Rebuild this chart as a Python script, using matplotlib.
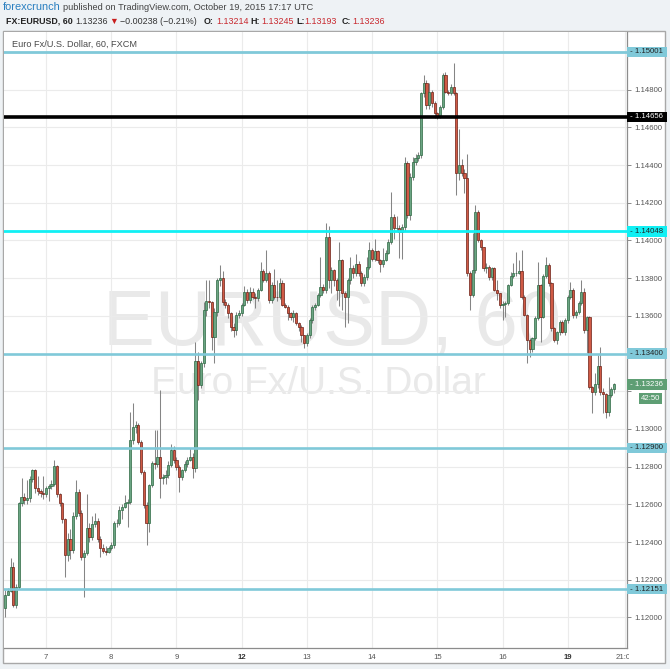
import matplotlib
matplotlib.use('Agg')
import matplotlib.pyplot as plt
from matplotlib.patches import Rectangle
from matplotlib.transforms import blended_transform_factory, Bbox, TransformedBbox
import numpy as np

# ---------------- data (EURUSD hourly, Oct 6 09:00 -> Oct 19 16:00 UTC) ----------------
first_open = 1.12050
closes = [
    1.12119, 1.12142, 1.12270, 1.12066, 1.12163, 1.12609, 1.12637, 1.12624, 1.12633, 1.12733,
    1.12782, 1.12685, 1.12672, 1.12662, 1.12655, 1.12685, 1.12697, 1.12710, 1.12804, 1.12655,
    1.12606, 1.12521, 1.12332, 1.12415, 1.12358, 1.12538, 1.12664, 1.12556, 1.12323, 1.12340,
    1.12473, 1.12429, 1.12496, 1.12513, 1.12415, 1.12367, 1.12354, 1.12349, 1.12367, 1.12384,
    1.12500, 1.12503, 1.12570, 1.12588, 1.12609, 1.12614, 1.12942, 1.13012, 1.13021, 1.12933,
    1.12773, 1.12597, 1.12500, 1.12703, 1.12818, 1.12815, 1.12850, 1.12738, 1.12743, 1.12756,
    1.12809, 1.12889, 1.12836, 1.12797, 1.12747, 1.12780, 1.12815, 1.12836, 1.12853, 1.12791,
    1.13362, 1.13233, 1.13348, 1.13631, 1.13681, 1.13675, 1.13490, 1.13622, 1.13790, 1.13799,
    1.13675, 1.13658, 1.13614, 1.13543, 1.13525, 1.13605, 1.13614, 1.13658, 1.13728, 1.13684,
    1.13728, 1.13702, 1.13693, 1.13737, 1.13840, 1.13790, 1.13826, 1.13684, 1.13764, 1.13702,
    1.13699, 1.13776, 1.13658, 1.13649, 1.13614, 1.13596, 1.13614, 1.13561, 1.13543, 1.13499,
    1.13455, 1.13499, 1.13578, 1.13649, 1.13658, 1.13711, 1.13755, 1.13737, 1.14020, 1.13790,
    1.13843, 1.13790, 1.13737, 1.13897, 1.13720, 1.13699, 1.13790, 1.13852, 1.13826, 1.13875,
    1.13826, 1.13773, 1.13808, 1.13858, 1.13950, 1.13902, 1.13943, 1.13897, 1.13875, 1.13897,
    1.13935, 1.13994, 1.14126, 1.14065, 1.14065, 1.14047, 1.14073, 1.14410, 1.14135, 1.14338,
    1.14418, 1.14436, 1.14454, 1.14781, 1.14837, 1.14719, 1.14790, 1.14728, 1.14675, 1.14661,
    1.14710, 1.14878, 1.14790, 1.14784, 1.14816, 1.14784, 1.14356, 1.14401, 1.14356, 1.14330,
    1.13830, 1.13710, 1.13843, 1.14153, 1.14003, 1.13967, 1.13852, 1.13861, 1.13808, 1.13852,
    1.13737, 1.13720, 1.13658, 1.13663, 1.13670, 1.13764, 1.13812, 1.13826, 1.13830, 1.13840,
    1.13702, 1.13605, 1.13473, 1.13423, 1.13481, 1.13587, 1.13764, 1.13596, 1.13809, 1.13870,
    1.13773, 1.13534, 1.13473, 1.13517, 1.13570, 1.13517, 1.13578, 1.13702, 1.13737, 1.13605,
    1.13623, 1.13667, 1.13728, 1.13525, 1.13592, 1.13225, 1.13198, 1.13238, 1.13334, 1.13198,
    1.13186, 1.13092, 1.13180, 1.13214, 1.13236,
]
highs = [
    1.12146, 1.12155, 1.12314, 1.12296, 1.12180, 1.12615, 1.12738, 1.12660, 1.12729, 1.12750,
    1.12790, 1.12790, 1.12750, 1.12680, 1.12750, 1.12700, 1.12710, 1.12730, 1.12836, 1.12810,
    1.12660, 1.12610, 1.12530, 1.12450, 1.12470, 1.12560, 1.12729, 1.12680, 1.12570, 1.12360,
    1.12655, 1.12500, 1.12540, 1.12553, 1.12530, 1.12430, 1.12390, 1.12380, 1.12380, 1.12400,
    1.12510, 1.12520, 1.12590, 1.12600, 1.12650, 1.12630, 1.13092, 1.13136, 1.13040, 1.13030,
    1.12940, 1.12780, 1.12610, 1.12710, 1.12830, 1.12995, 1.12995, 1.13207, 1.12760, 1.12780,
    1.12830, 1.12920, 1.12910, 1.12850, 1.12810, 1.12790, 1.12830, 1.12850, 1.12900, 1.12870,
    1.13463, 1.13410, 1.13360, 1.13675, 1.13790, 1.13790, 1.13680, 1.13640, 1.13800, 1.13870,
    1.13840, 1.13690, 1.13670, 1.13620, 1.13560, 1.13620, 1.13630, 1.13670, 1.13760, 1.13740,
    1.13755, 1.13750, 1.13720, 1.13750, 1.13888, 1.13850, 1.13950, 1.13840, 1.13780, 1.13850,
    1.13790, 1.13800, 1.13790, 1.13670, 1.13660, 1.13620, 1.13630, 1.13620, 1.13570, 1.13550,
    1.13500, 1.13510, 1.13590, 1.13660, 1.13670, 1.13720, 1.13914, 1.13770, 1.14094, 1.14077,
    1.13860, 1.13850, 1.13800, 1.13994, 1.13900, 1.13730, 1.13800, 1.13910, 1.13870, 1.13930,
    1.13890, 1.13840, 1.13820, 1.13910, 1.13994, 1.13960, 1.14010, 1.13950, 1.13900, 1.13959,
    1.13950, 1.14010, 1.14259, 1.14140, 1.14130, 1.14080, 1.14090, 1.14445, 1.14420, 1.14360,
    1.14445, 1.14460, 1.14470, 1.14790, 1.14878, 1.14850, 1.14834, 1.14800, 1.14740, 1.14680,
    1.14720, 1.14887, 1.14896, 1.14800, 1.14830, 1.14940, 1.14790, 1.14590, 1.14430, 1.14380,
    1.14460, 1.13840, 1.14040, 1.14188, 1.14160, 1.14010, 1.13940, 1.13880, 1.13870, 1.13860,
    1.13860, 1.13790, 1.13720, 1.13680, 1.13680, 1.13770, 1.13835, 1.13879, 1.13940, 1.13897,
    1.13949, 1.13710, 1.13610, 1.13480, 1.13490, 1.13600, 1.13888, 1.13770, 1.13820, 1.13914,
    1.13880, 1.13780, 1.13540, 1.13520, 1.13580, 1.13580, 1.13590, 1.13710, 1.13782, 1.13750,
    1.13630, 1.13680, 1.13791, 1.13750, 1.13600, 1.13600, 1.13230, 1.13295, 1.13390, 1.13437,
    1.13220, 1.13190, 1.13278, 1.13225, 1.13245,
]
lows = [
    1.12004, 1.12119, 1.12137, 1.12058, 1.12050, 1.12150, 1.12590, 1.12600, 1.12600, 1.12610,
    1.12720, 1.12660, 1.12650, 1.12640, 1.12630, 1.12640, 1.12620, 1.12680, 1.12700, 1.12640,
    1.12590, 1.12500, 1.12217, 1.12300, 1.12310, 1.12340, 1.12520, 1.12540, 1.12305, 1.12110,
    1.12330, 1.12400, 1.12410, 1.12480, 1.12400, 1.12320, 1.12340, 1.12330, 1.12340, 1.12360,
    1.12370, 1.12480, 1.12490, 1.12520, 1.12580, 1.12482, 1.12600, 1.12920, 1.12980, 1.12920,
    1.12760, 1.12580, 1.12385, 1.12456, 1.12690, 1.12790, 1.12800, 1.12632, 1.12710, 1.12710,
    1.12740, 1.12800, 1.12820, 1.12780, 1.12667, 1.12730, 1.12770, 1.12800, 1.12830, 1.12740,
    1.12770, 1.13154, 1.13220, 1.13330, 1.13600, 1.13640, 1.13419, 1.13348, 1.13600, 1.13760,
    1.13660, 1.13640, 1.13590, 1.13520, 1.13490, 1.13500, 1.13590, 1.13600, 1.13650, 1.13670,
    1.13670, 1.13690, 1.13640, 1.13680, 1.13730, 1.13780, 1.13780, 1.13670, 1.13670, 1.13690,
    1.13680, 1.13690, 1.13650, 1.13640, 1.13578, 1.13580, 1.13570, 1.13550, 1.13520, 1.13460,
    1.13428, 1.13440, 1.13480, 1.13560, 1.13630, 1.13650, 1.13700, 1.13720, 1.13720, 1.13750,
    1.13720, 1.13760, 1.13684, 1.13650, 1.13630, 1.13543, 1.13560, 1.13770, 1.13800, 1.13810,
    1.13810, 1.13760, 1.13760, 1.13790, 1.13850, 1.13890, 1.13890, 1.13880, 1.13834, 1.13860,
    1.13890, 1.13930, 1.13980, 1.14010, 1.14050, 1.13906, 1.13900, 1.14050, 1.14120, 1.14110,
    1.14320, 1.14400, 1.14420, 1.14440, 1.14760, 1.14700, 1.14700, 1.14710, 1.14650, 1.14644,
    1.14650, 1.14700, 1.14780, 1.14770, 1.14770, 1.14770, 1.14241, 1.14320, 1.14340, 1.14250,
    1.13810, 1.13631, 1.13700, 1.13830, 1.13990, 1.13950, 1.13840, 1.13830, 1.13790, 1.13790,
    1.13730, 1.13684, 1.13640, 1.13578, 1.13596, 1.13660, 1.13760, 1.13800, 1.13810, 1.13820,
    1.13690, 1.13600, 1.13348, 1.13380, 1.13410, 1.13470, 1.13580, 1.13460, 1.13590, 1.13800,
    1.13760, 1.13520, 1.13460, 1.13450, 1.13500, 1.13510, 1.13500, 1.13560, 1.13690, 1.13590,
    1.13590, 1.13610, 1.13660, 1.13510, 1.13401, 1.13210, 1.13083, 1.13180, 1.13220, 1.13180,
    1.13083, 1.13056, 1.13070, 1.13170, 1.13193,
]

day_ticks = [15, 39, 63, 87, 111, 135, 159, 183, 207, 228]
day_labels = ['7', '8', '9', '12', '13', '14', '15', '16', '19', '21:00']
bold_labels = ['12', '19']

price_ticks = [1.120, 1.122, 1.124, 1.126, 1.128, 1.130, 1.132, 1.134,
               1.136, 1.138, 1.140, 1.142, 1.144, 1.146, 1.148]
hidden_tick_labels = [1.132, 1.134]   # covered by the price boxes in the original

levels = [1.15001, 1.14656, 1.14048, 1.13400, 1.12900, 1.12151]
level_colors = ['#80c9d9', '#000000', '#11f0f4', '#80c9d9', '#80c9d9', '#80c9d9']
level_text_colors = ['#222222', '#ffffff', '#222222', '#222222', '#222222', '#222222']
level_widths = [2.0, 2.6, 2.0, 1.9, 1.9, 1.9]

last_price = 1.13236
countdown = '42:50'

# ---------------- figure ----------------
W, H = 670, 669
plt.rcParams['font.family'] = ['Liberation Sans', 'DejaVu Sans']
fig = plt.figure(figsize=(W / 100, H / 100), dpi=100, facecolor='#eef2f5')


def fx(px):
    return px / W


def fy(py):
    return 1 - py / H


fig.patches.append(Rectangle((fx(3), fy(663)), fx(665) - fx(3), fy(31) - fy(663),
                             transform=fig.transFigure, facecolor='white',
                             edgecolor='#a8a8a8', lw=1.0, zorder=-10))

ax = fig.add_axes([fx(4), fy(648), fx(627) - fx(4), fy(32) - fy(648)])
ax.set_facecolor('white')

c = np.array(closes)
hi = np.array(highs)
lo = np.array(lows)
o = np.concatenate([[first_open], c[:-1]])
x = np.arange(len(c))
hi = np.maximum(hi, np.maximum(o, c))
lo = np.minimum(lo, np.minimum(o, c))
up = c >= o

ax.vlines(x, lo, hi, color='#858585', lw=0.75, zorder=3)
face = np.where(up, '#6ba583', '#d05a45')
edge = np.where(up, '#2c6842', '#6b2016')
ax.bar(x, np.maximum(np.abs(c - o), 0.00003), bottom=np.minimum(o, c), width=0.8,
       color=face, edgecolor=edge, lw=0.5, zorder=4)

ax.set_xlim(-0.46, 228.8)
ax.set_ylim(1.11838, 1.15106)

ax.set_yticks(price_ticks)
ax.set_yticklabels(['' if any(abs(v - h) < 1e-9 for h in hidden_tick_labels) else f'{v:.5f}'
                    for v in price_ticks])
ax.yaxis.tick_right()
ax.tick_params(axis='y', length=3, width=0.6, color='#777777', labelsize=5.6,
               labelcolor='#555555', pad=2)
ax.set_xticks(day_ticks)
ax.set_xticklabels(day_labels)
ax.tick_params(axis='x', length=0, labelsize=5.6, labelcolor='#555555', pad=4)
clipbox = TransformedBbox(Bbox([[0, 0], [fx(629), 1]]), fig.transFigure)
for t in ax.get_xticklabels():
    if t.get_text() in bold_labels:
        t.set_fontweight('bold')
        t.set_color('#333333')
    t.set_clip_box(clipbox)
    t.set_clip_on(True)

ax.grid(True, color='#ebebeb', lw=0.8, zorder=1)
ax.set_axisbelow(True)
for s in ['top', 'left']:
    ax.spines[s].set_visible(False)
for s in ['right', 'bottom']:
    ax.spines[s].set_color('#8c8c8c')
    ax.spines[s].set_linewidth(0.9)

# watermark
ax.text(fx(332), fy(345), 'EURUSD, 60', transform=fig.transFigure, ha='center',
        va='baseline', fontsize=56, color='#e9e9e9', zorder=0.5)
ax.text(fx(318), fy(394), 'Euro Fx/U.S. Dollar', transform=fig.transFigure, ha='center',
        va='baseline', fontsize=28, color='#e9e9e9', zorder=0.5)

# horizontal levels + right-axis labels
tr = blended_transform_factory(ax.transAxes, ax.transData)
for lv, col, tcol, lw in zip(levels, level_colors, level_text_colors, level_widths):
    ax.axhline(lv, color=col, lw=lw, zorder=5)
    ax.text(1.0 + 1.5 / 623, lv, f' - {lv:.5f} ', transform=tr, ha='left', va='center',
            fontsize=5.6, color=tcol, clip_on=False, zorder=10,
            bbox=dict(boxstyle='square,pad=0.22', fc=col, ec='none'))

ax.text(1.0 + 1.5 / 623, last_price, f' - {last_price:.5f} ', transform=tr, ha='left',
        va='center', fontsize=5.6, color='white', clip_on=False, zorder=10,
        bbox=dict(boxstyle='square,pad=0.22', fc='#5e9e74', ec='none'))
ax.text(fx(660), fy(398.5), countdown, transform=fig.transFigure, ha='right', va='center',
        fontsize=5.6, color='white', zorder=10,
        bbox=dict(boxstyle='square,pad=0.2', fc='#5e9e74', ec='none'))

# legend label in pane
fig.text(fx(12), fy(44), 'Euro Fx/U.S. Dollar, 60, FXCM', fontsize=6.6, color='#4a4a4a',
         va='center', ha='left')

# header line 1
renderer = fig.canvas.get_renderer()
t1 = fig.text(fx(3), fy(7), 'forexcrunch', fontsize=7.9, color='#2a7fc0', va='center')
bb = t1.get_window_extent(renderer)
fig.text(bb.x1 / W + fx(2.5), fy(7), 'published on TradingView.com, October 19, 2015 17:17 UTC',
         fontsize=6.7, color='#444444', va='center')

# header line 2
pieces = [
    (6, 'FX:EURUSD, 60', 'bold', '#222222'),
    (75, '1.13236', 'normal', '#333333'),
    (109, '▼', 'normal', '#c81e1e'),
    (120, '\u22120.00238 (\u22120.21%)', 'normal', '#333333'),
    (204, 'O:', 'bold', '#222222'),
    (216, '1.13214', 'normal', '#c8282e'),
    (250, 'H:', 'bold', '#222222'),
    (261, '1.13245', 'normal', '#c8282e'),
    (296, 'L:', 'bold', '#222222'),
    (304, '1.13193', 'normal', '#c8282e'),
    (342, 'C:', 'bold', '#222222'),
    (352, '1.13236', 'normal', '#c8282e'),
]
for px, s, w, col in pieces:
    fig.text(fx(px), fy(21), s, fontsize=6.4, fontweight=w, color=col, va='center', ha='left')

fig.savefig('out.png', dpi=100, facecolor=fig.get_facecolor())
